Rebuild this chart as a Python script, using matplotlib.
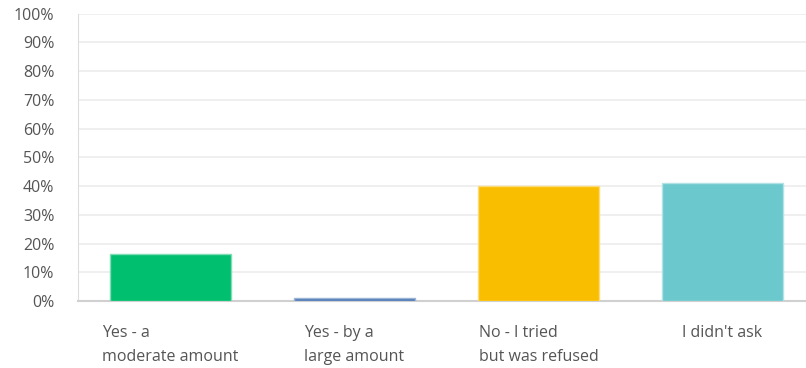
import matplotlib.pyplot as plt
from matplotlib.ticker import MultipleLocator, FuncFormatter

categories = ["Yes - a\nmoderate amount", "Yes - by a\nlarge amount",
              "No - I tried\nbut was refused", "I didn't ask"]
values = [16.5, 1.1, 40.1, 41.1]
colors = ["#00BF6F", "#507CB6", "#F9BE00", "#6BC8CD"]
edges = ["#7fdcb4", "#9ab4d6", "#fcdc7a", "#b3e2e4"]

plt.rcParams['font.family'] = ['Open Sans', 'DejaVu Sans']

fig = plt.figure(figsize=(8.06, 3.68), dpi=100)
ax = fig.add_axes([0.0968, 0.182, 0.9032, 0.781])

x = range(len(categories))
ax.bar(x, values, width=0.66, color=colors, edgecolor=edges, linewidth=1, zorder=3)

ax.set_ylim(0, 100)
ax.set_xlim(-0.503, 3.454)
ax.yaxis.set_major_locator(MultipleLocator(10))
ax.yaxis.set_major_formatter(FuncFormatter(lambda v, p: f"{int(v)}%"))
ax.grid(axis='y', color='#ececec', linewidth=1.2, zorder=0)
ax.set_axisbelow(True)

ax.set_xticks(list(x))
ax.set_xticklabels(categories, ha='center', multialignment='left',
                   linespacing=1.7, color='#555555', fontsize=11.5)
ax.tick_params(axis='x', length=0, pad=17)
ax.tick_params(axis='y', length=0, pad=17, labelcolor='#555555', labelsize=11.5)

for s in ['top', 'right']:
    ax.spines[s].set_visible(False)
ax.spines['left'].set_color('#dddddd')
ax.spines['bottom'].set_color('#d0d0d0')
ax.spines['bottom'].set_linewidth(1.5)

fig.savefig('out.png', dpi=100)
